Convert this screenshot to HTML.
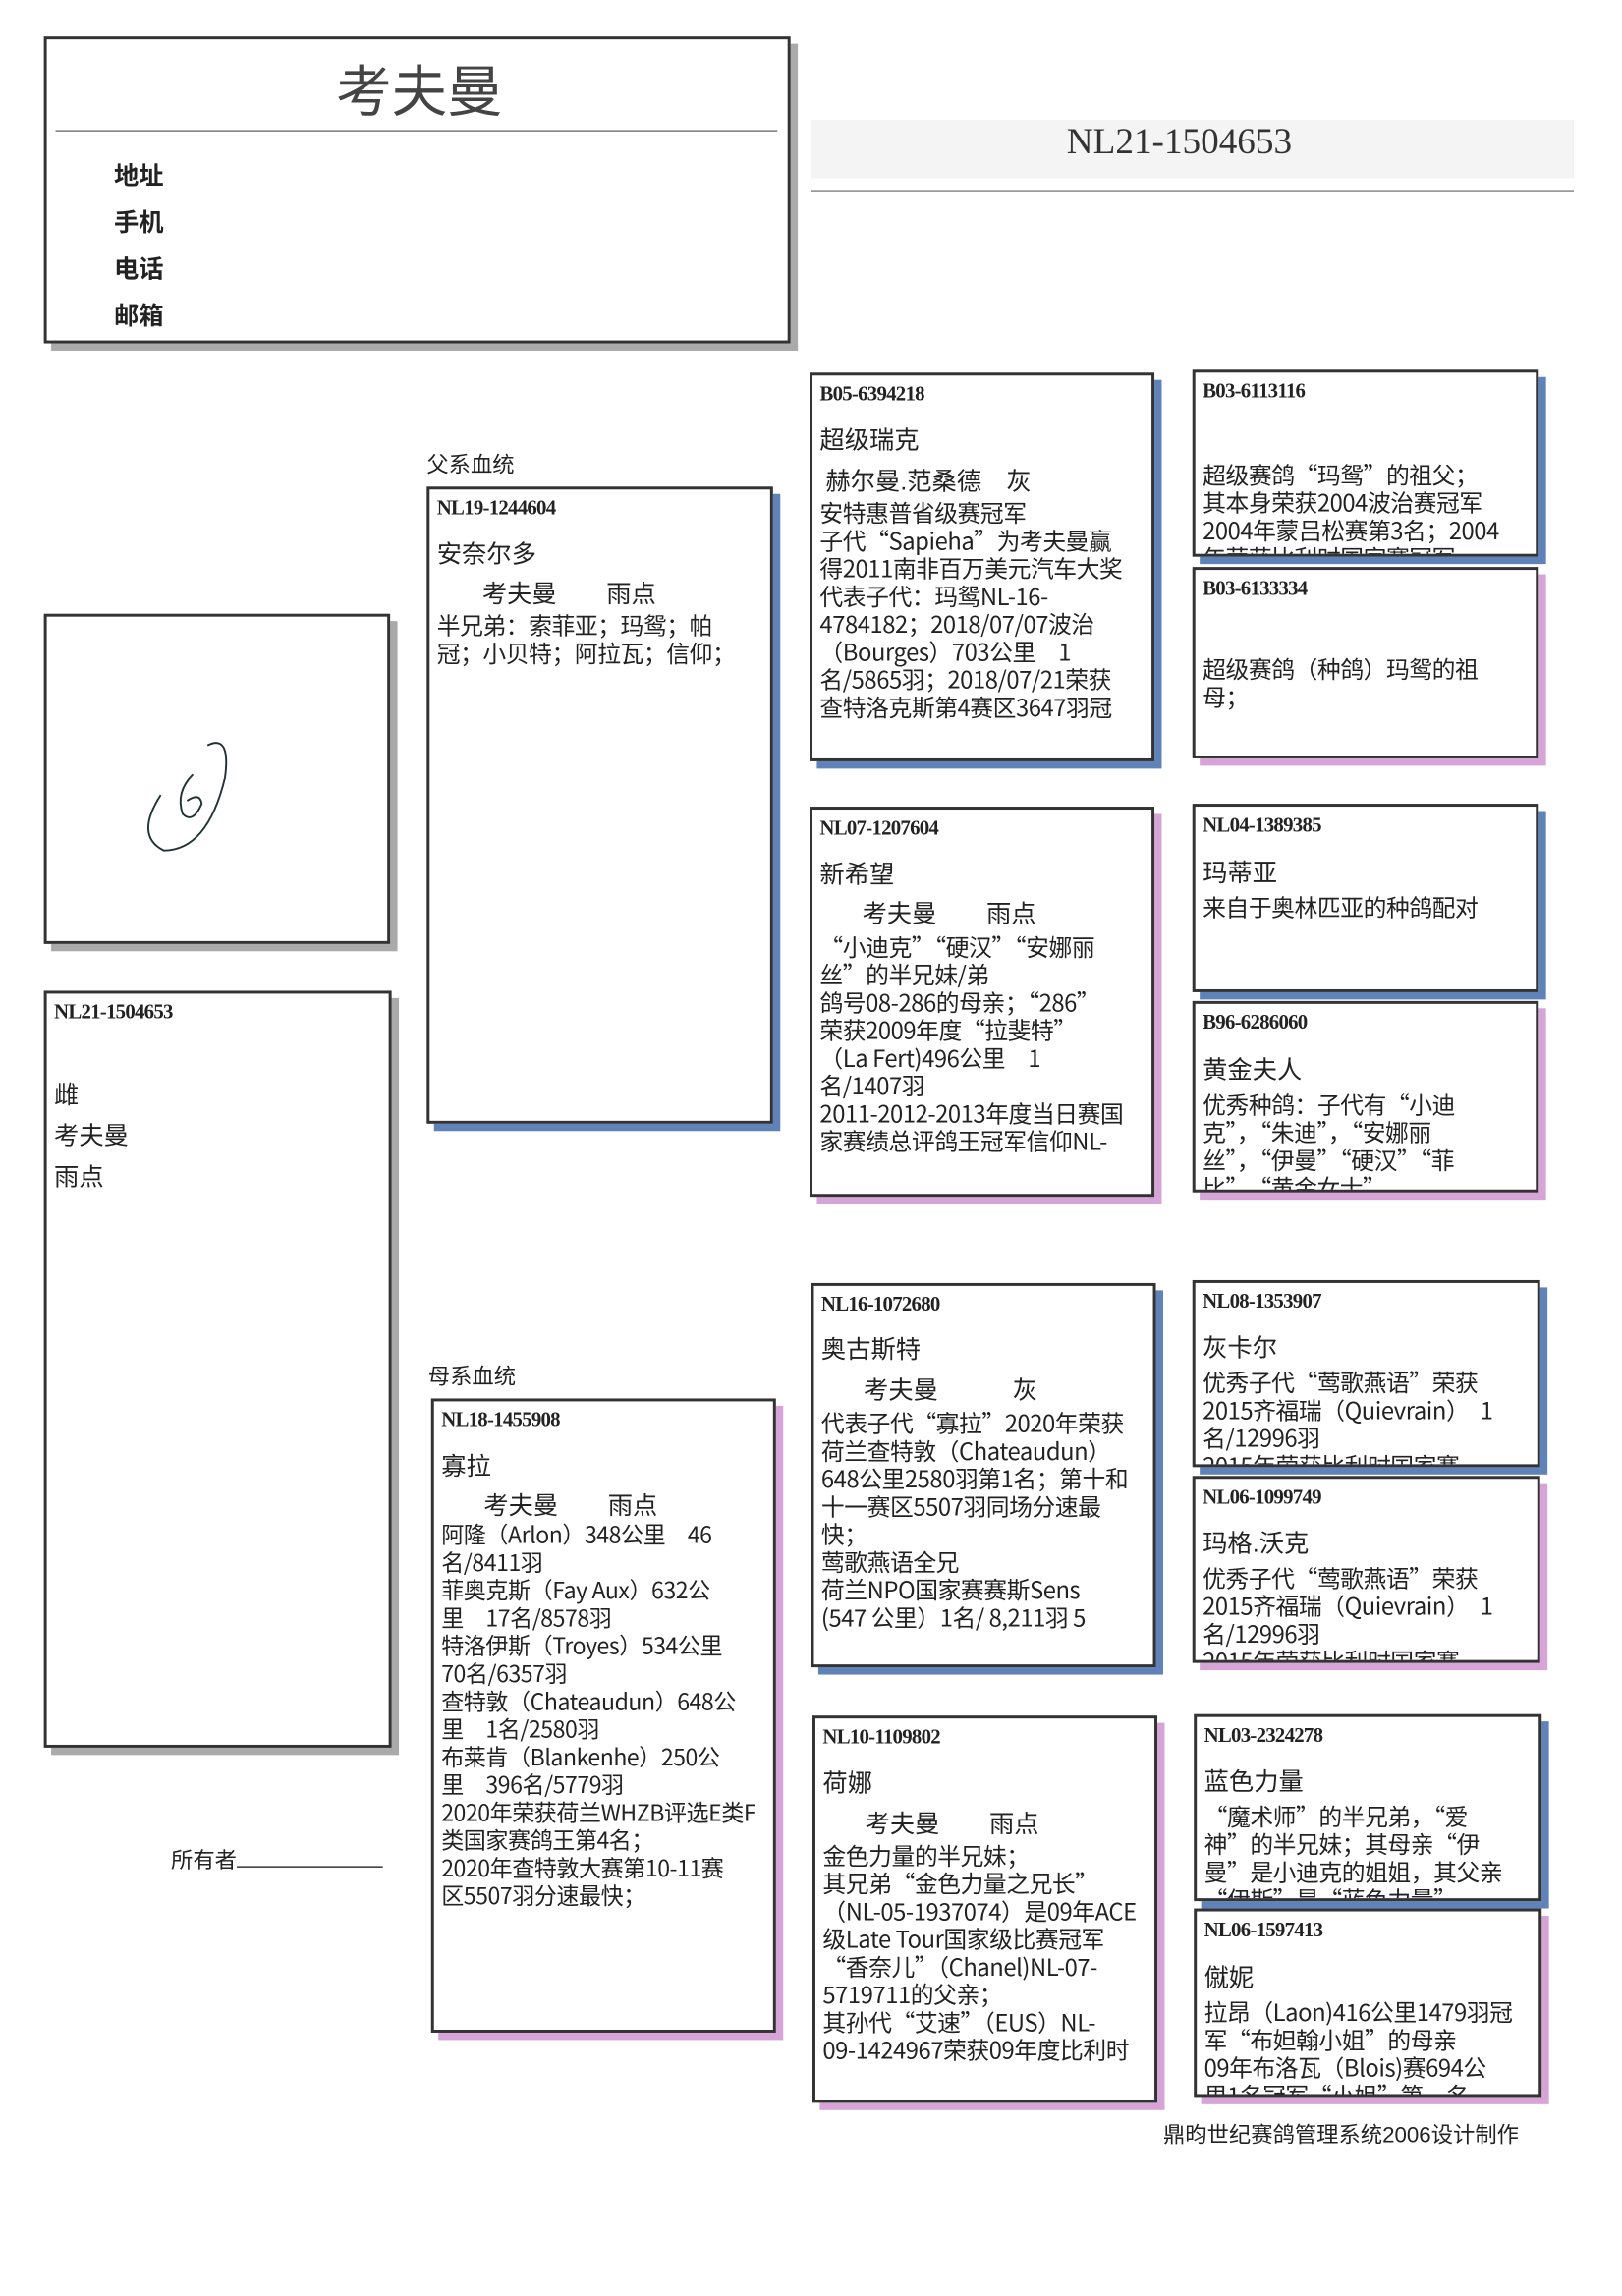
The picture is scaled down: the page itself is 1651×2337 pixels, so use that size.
<!DOCTYPE html>
<html><head><meta charset="utf-8"><style>
html,body{margin:0;padding:0;background:#fff;}
body{width:1651px;height:2336px;overflow:hidden;position:relative;}
#w{position:absolute;left:0;top:0;width:1110px;height:1571px;transform:scale(1.4874);transform-origin:0 0;font-family:"Liberation Sans","Noto Sans CJK SC",sans-serif;color:#222;}
.b{position:absolute;border:2px solid #333;background:#fff;box-sizing:border-box;overflow:hidden;}
.bl{box-shadow:5px 5px 0 #5f83b8;}
.pk{box-shadow:5px 5px 0 #d6a4d6;}
.gr{box-shadow:5px 5px 0 #aaa;}
.id{position:absolute;left:5px;top:6px;font-family:"Liberation Serif","Noto Serif CJK SC",serif;font-weight:bold;font-size:14px;letter-spacing:-0.5px;}
.nm{position:absolute;left:5px;font-size:17px;}
.tx{position:absolute;left:5px;right:2px;font-family:"Noto Sans CJK SC","Liberation Sans",sans-serif;font-size:16px;line-height:19px;white-space:nowrap;letter-spacing:-0.3px;}
.t{position:absolute;}
</style></head><body><div id="w">

<div class="b gr" style="left:30px;top:25px;width:511px;height:210px;">
 <div class="t" style="left:198px;top:5px;font-size:38px;color:#444;">考夫曼</div>
 <div class="t" style="left:6px;top:62px;width:494px;border-top:1.5px solid #777;"></div>
 <div class="t" style="left:46px;top:78px;font-size:17px;font-weight:bold;line-height:32px;">地址<br>手机<br>电话<br>邮箱</div>
</div>
<div class="t" style="left:555px;top:82px;width:522px;height:40px;background:#f4f4f4;"></div>
<div class="t" style="left:730px;top:84px;font-family:'Liberation Serif',serif;font-size:25px;color:#333;">NL21-1504653</div>
<div class="t" style="left:555px;top:130px;width:522px;border-top:1.5px solid #888;"></div>

<div class="b gr" style="left:30px;top:420px;width:237px;height:226px;">
<svg width="237" height="226" style="position:absolute;left:0;top:0"><path d="M78 122 Q60 150 80 160 Q110 160 122 110 Q126 80 110 88" fill="none" stroke="#233" stroke-width="1.3"/><path d="M100 108 Q88 120 93 135 Q100 142 106 128 Q105 120 96 126" fill="none" stroke="#233" stroke-width="1.3"/></svg>
</div>
<div class="b gr" style="left:30px;top:678px;width:238px;height:518px;">
 <div class="id">NL21-1504653</div>
 <div class="nm" style="top:56px;line-height:28px;">雌<br>考夫曼<br>雨点</div>
</div>
<div class="t" style="left:117px;top:1262px;font-size:15px;">所有者<span style="display:inline-block;width:100px;border-bottom:1px solid #333;"></span></div>

<div class="t" style="left:292px;top:307px;font-size:15px;">父系血统</div>
<div class="b bl" style="left:292px;top:333px;width:237px;height:436px;">
 <div class="id">NL19-1244604</div>
 <div class="nm" style="top:30px;">安奈尔多</div>
 <div class="nm" style="top:57px;left:36px;">考夫曼&emsp;&emsp;雨点</div>
 <div class="tx" style="top:83px;">半兄弟：索菲亚；玛鸳；帕<br>冠；小贝特；阿拉瓦；信仰；</div>
</div>
<div class="t" style="left:293px;top:931px;font-size:15px;">母系血统</div>
<div class="b pk" style="left:295px;top:957px;width:236px;height:434px;">
 <div class="id">NL18-1455908</div>
 <div class="nm" style="top:30px;">寡拉</div>
 <div class="nm" style="top:57px;left:34px;">考夫曼&emsp;&emsp;雨点</div>
 <div class="tx" style="top:82px;font-size:15.5px;">阿隆（Arlon）348公里　46<br>名/8411羽<br>菲奥克斯（Fay Aux）632公<br>里　17名/8578羽<br>特洛伊斯（Troyes）534公里<br>70名/6357羽<br>查特敦（Chateaudun）648公<br>里　1名/2580羽<br>布莱肯（Blankenhe）250公<br>里　396名/5779羽<br>2020年荣获荷兰WHZB评选E类F<br>类国家赛鸽王第4名；<br>2020年查特敦大赛第10-11赛<br>区5507羽分速最快；</div>
</div>

<div class="b bl" style="left:554px;top:255px;width:236px;height:266px;">
 <div class="id">B05-6394218</div>
 <div class="nm" style="top:30px;">超级瑞克</div>
 <div class="nm" style="top:58px;left:9px;">赫尔曼.范桑德&emsp;灰</div>
 <div class="tx" style="top:84px;">安特惠普省级赛冠军<br>子代“Sapieha”为考夫曼赢<br>得2011南非百万美元汽车大奖<br>代表子代：玛鸳NL-16-<br>4784182；2018/07/07波治<br>（Bourges）703公里　1<br>名/5865羽；2018/07/21荣获<br>查特洛克斯第4赛区3647羽冠</div>
</div>
<div class="b pk" style="left:554px;top:552px;width:236px;height:267px;">
 <div class="id">NL07-1207604</div>
 <div class="nm" style="top:30px;">新希望</div>
 <div class="nm" style="top:57px;left:34px;">考夫曼&emsp;&emsp;雨点</div>
 <div class="tx" style="top:84px;">“小迪克”“硬汉”“安娜丽<br>丝”的半兄妹/弟<br>鸽号08-286的母亲；“286”<br>荣获2009年度“拉斐特”<br>（La Fert)496公里　1<br>名/1407羽<br>2011-2012-2013年度当日赛国<br>家赛绩总评鸽王冠军信仰NL-</div>
</div>
<div class="b bl" style="left:555px;top:878px;width:236px;height:263px;">
 <div class="id">NL16-1072680</div>
 <div class="nm" style="top:29px;">奥古斯特</div>
 <div class="nm" style="top:57px;left:34px;">考夫曼&emsp;&emsp;&emsp;灰</div>
 <div class="tx" style="top:84px;">代表子代“寡拉”2020年荣获<br>荷兰查特敦（Chateaudun）<br>648公里2580羽第1名；第十和<br>十一赛区5507羽同场分速最<br>快；<br>莺歌燕语全兄<br>荷兰NPO国家赛赛斯Sens<br>(547 公里）1名/ 8,211羽 5</div>
</div>
<div class="b pk" style="left:556px;top:1174px;width:236px;height:265px;">
 <div class="id">NL10-1109802</div>
 <div class="nm" style="top:30px;">荷娜</div>
 <div class="nm" style="top:58px;left:34px;">考夫曼&emsp;&emsp;雨点</div>
 <div class="tx" style="top:84px;">金色力量的半兄妹；<br>其兄弟“金色力量之兄长”<br>（NL-05-1937074）是09年ACE<br>级Late Tour国家级比赛冠军<br>“香奈儿”（Chanel)NL-07-<br>5719711的父亲；<br>其孙代“艾速”（EUS）NL-<br>09-1424967荣获09年度比利时</div>
</div>

<div class="b bl" style="left:816px;top:253px;width:237px;height:128px;">
 <div class="id">B03-6113116</div>
 <div class="tx" style="top:60px;">超级赛鸽“玛鸳”的祖父；<br>其本身荣获2004波治赛冠军<br>2004年蒙吕松赛第3名；2004<br>年荣获比利时国家赛冠军</div>
</div>
<div class="b pk" style="left:816px;top:388px;width:237px;height:131px;">
 <div class="id">B03-6133334</div>
 <div class="tx" style="top:58px;">超级赛鸽（种鸽）玛鸳的祖<br>母；</div>
</div>
<div class="b bl" style="left:816px;top:550px;width:237px;height:129px;">
 <div class="id">NL04-1389385</div>
 <div class="nm" style="top:31px;">玛蒂亚</div>
 <div class="tx" style="top:59px;">来自于奥林匹亚的种鸽配对</div>
</div>
<div class="b pk" style="left:816px;top:685px;width:237px;height:131px;">
 <div class="id">B96-6286060</div>
 <div class="nm" style="top:31px;">黄金夫人</div>
 <div class="tx" style="top:59px;">优秀种鸽：子代有“小迪<br>克”，“朱迪”，“安娜丽<br>丝”，“伊曼”“硬汉”“菲<br>比”，“黄金女士”</div>
</div>
<div class="b bl" style="left:816px;top:876px;width:238px;height:128px;">
 <div class="id">NL08-1353907</div>
 <div class="nm" style="top:30px;">灰卡尔</div>
 <div class="tx" style="top:58px;">优秀子代“莺歌燕语”荣获<br>2015齐福瑞（Quievrain）　1<br>名/12996羽<br>2015年荣获比利时国家赛</div>
</div>
<div class="b pk" style="left:816px;top:1010px;width:238px;height:128px;">
 <div class="id">NL06-1099749</div>
 <div class="nm" style="top:30px;">玛格.沃克</div>
 <div class="tx" style="top:58px;">优秀子代“莺歌燕语”荣获<br>2015齐福瑞（Quievrain）　1<br>名/12996羽<br>2015年荣获比利时国家赛</div>
</div>
<div class="b bl" style="left:817px;top:1173px;width:238px;height:128px;">
 <div class="id">NL03-2324278</div>
 <div class="nm" style="top:30px;">蓝色力量</div>
 <div class="tx" style="top:58px;">“魔术师”的半兄弟，“爱<br>神”的半兄妹；其母亲“伊<br>曼”是小迪克的姐姐，其父亲<br>“伊斯”是“蓝色力量”</div>
</div>
<div class="b pk" style="left:817px;top:1306px;width:238px;height:129px;">
 <div class="id">NL06-1597413</div>
 <div class="nm" style="top:31px;">僦妮</div>
 <div class="tx" style="top:59px;">拉昂（Laon)416公里1479羽冠<br>军“布妲翰小姐”的母亲<br>09年布洛瓦（Blois)赛694公<br>里1名冠军“小姐”第一名</div>
</div>

<div class="t" style="left:796px;top:1450px;font-size:15px;">鼎昀世纪赛鸽管理系统2006设计制作</div>
</div></body></html>
